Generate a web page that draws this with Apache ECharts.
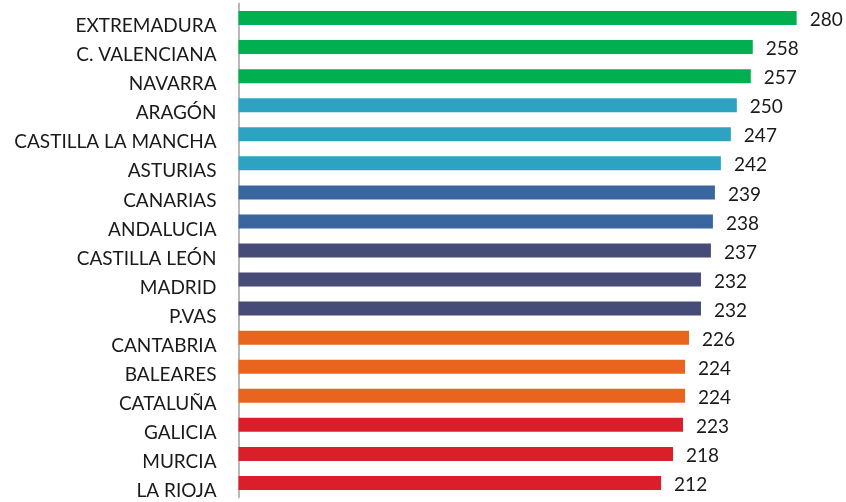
<!DOCTYPE html>
<html>
<head>
<meta charset="utf-8">
<script src="https://cdn.jsdelivr.net/npm/echarts@6/dist/echarts.min.js"></script>
<style>
html,body{margin:0;padding:0;background:#fff;}
#chart{width:846px;height:502px;}
</style>
</head>
<body>
<div id="chart"></div>
<script>
const categories = ["EXTREMADURA","C. VALENCIANA","NAVARRA","ARAGÓN","CASTILLA LA MANCHA","ASTURIAS","CANARIAS","ANDALUCIA","CASTILLA LEÓN","MADRID","P.VAS","CANTABRIA","BALEARES","CATALUÑA","GALICIA","MURCIA","LA RIOJA"];
const values = [280,258,257,250,247,242,239,238,237,232,232,226,224,224,223,218,212];
const groupOf = [0,0,0,1,1,1,2,2,3,3,3,4,4,4,5,5,5];
const groupColors = ["#00AF50","#2EA3C1","#3A66A0","#464B78","#E8641F","#DA1F2A"];

const chart = echarts.init(document.getElementById('chart'), null, {renderer:'canvas'});
chart.setOption({
  animation:false,
  backgroundColor:'#ffffff',
  grid:{left:238.5, right:9.5, top:3.5, bottom:4.5, containLabel:false},
  xAxis:{type:'value', min:0, max:300, show:false},
  yAxis:{
    type:'category', data:categories, inverse:true,
    axisLine:{show:true, lineStyle:{color:'#A0A0A0', width:1.5}},
    axisTick:{show:false},
    axisLabel:{
      margin:22,
      formatter: v => '{a|' + v + '}',
      rich:{a:{color:'#1a1a1a', fontFamily:'Lato', fontSize:19, padding:[16,0,0,0]}}
    },
    splitLine:{show:false}
  },
  series:[{
    type:'bar',
    barWidth:14,
    data: values.map((v,i)=>({value:v, itemStyle:{color:groupColors[groupOf[i]]}})),
    label:{
      show:true, position:'right', distance:13,
      formatter:'{a|{c}}',
      rich:{a:{color:'#1a1a1a', fontFamily:'Lato', fontSize:19, padding:[4,0,0,0]}}
    }
  }]
});
</script>
</body>
</html>
